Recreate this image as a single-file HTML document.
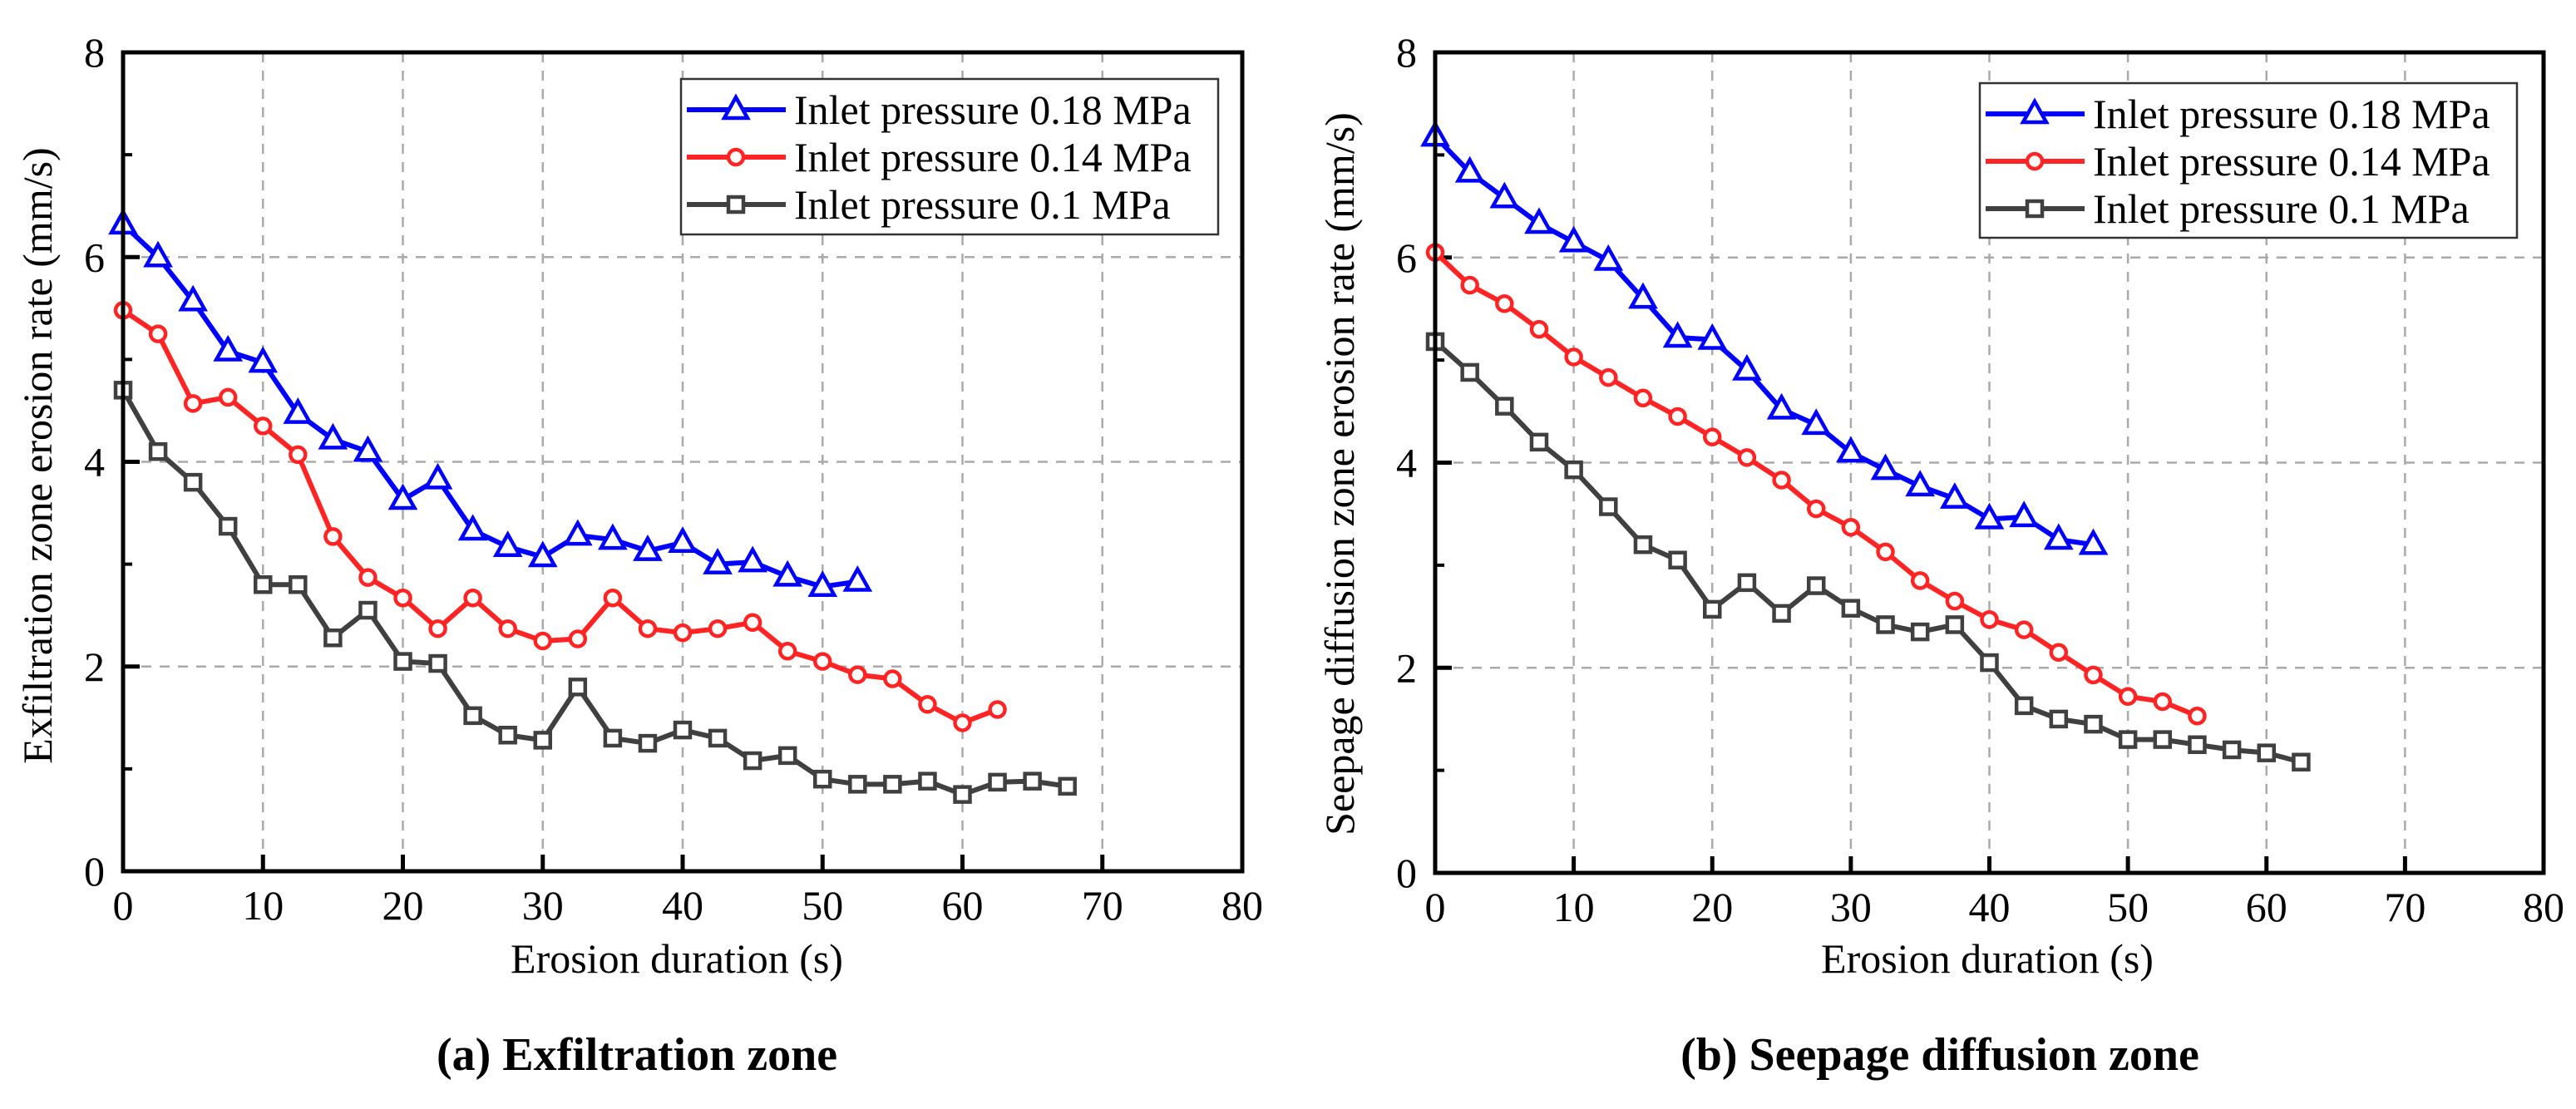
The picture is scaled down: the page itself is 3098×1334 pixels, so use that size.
<!DOCTYPE html>
<html><head><meta charset="utf-8"><style>
html,body{margin:0;padding:0;background:#fff;}
svg, svg text{font-family:"Liberation Serif","Times New Roman",serif;}
</style></head><body>
<svg id="fig" width="3098" height="1329" viewBox="0 0 3098 1329" xmlns="http://www.w3.org/2000/svg" font-family="Liberation Serif, serif"></svg>
<script>
const xTicks=[0,10,20,30,40,50,60,70,80];
const yTicks=[0,2,4,6,8];
const seriesNames=["Inlet pressure 0.18 MPa","Inlet pressure 0.14 MPa","Inlet pressure 0.1 MPa"];
const aBlue=[6.32,6.0,5.57,5.08,4.97,4.47,4.22,4.1,3.63,3.83,3.33,3.17,3.07,3.28,3.24,3.13,3.21,3.0,3.02,2.88,2.78,2.83];
const aRed=[5.48,5.25,4.57,4.63,4.35,4.07,3.27,2.87,2.67,2.37,2.67,2.37,2.25,2.27,2.67,2.37,2.33,2.37,2.43,2.15,2.05,1.92,1.88,1.63,1.45,1.58];
const aBlack=[4.7,4.1,3.8,3.37,2.8,2.8,2.28,2.55,2.05,2.03,1.52,1.33,1.28,1.8,1.3,1.25,1.38,1.3,1.08,1.13,0.9,0.85,0.85,0.88,0.75,0.87,0.88,0.83];
const bBlue=[7.18,6.83,6.58,6.33,6.15,5.97,5.6,5.22,5.2,4.9,4.52,4.37,4.1,3.93,3.77,3.65,3.45,3.47,3.25,3.2];
const bRed=[6.05,5.73,5.55,5.3,5.03,4.83,4.63,4.45,4.25,4.05,3.83,3.55,3.37,3.13,2.85,2.65,2.47,2.37,2.15,1.93,1.72,1.67,1.53];
const bBlack=[5.18,4.88,4.55,4.2,3.93,3.57,3.2,3.05,2.57,2.83,2.53,2.8,2.58,2.42,2.35,2.42,2.05,1.63,1.5,1.45,1.3,1.3,1.25,1.2,1.17,1.08];
const xStep=2.5;

const NS="http://www.w3.org/2000/svg";
const svg=document.getElementById('fig');
function mk(tag,attrs,parent,text){const e=document.createElementNS(NS,tag);for(const k in attrs)e.setAttribute(k,attrs[k]);if(text!==undefined){e.textContent=text;e.setAttribute('font-family','Liberation Serif, serif');}(parent||svg).appendChild(e);return e;}

const colors=["#0000ff","#ff2424","#404040"];
const markers=["tri","circ","sq"];

function marker(g,type,x,y,color){
  let m;
  if(type==="tri"){m=mk('polygon',{points:`${x},${y-15} ${x-14},${y+10} ${x+14},${y+10}`,fill:'#fff',stroke:color,'stroke-width':4.5},g);}
  else if(type==="circ"){m=mk('circle',{cx:x,cy:y,r:9,fill:'#fff',stroke:color,'stroke-width':4.5},g);}
  else {m=mk('rect',{x:x-9,y:y-9,width:18,height:18,fill:'#fff',stroke:color,'stroke-width':4.5},g);}
  return m;
}

function panel(cfg){
  const {L,R,T,B,id,data,ytitle,ycx,ycy,xtx,sub,subx,leg}=cfg;
  const g=mk('g',{});
  
  
  const X=v=>L+(R-L)*v/80, Y=v=>B-(B-T)*v/8;
  xTicks.slice(1,-1).forEach(t=>{const l=mk('line',{x1:X(t),x2:X(t),y1:T,y2:B,stroke:'#aaa','stroke-width':2.5,'stroke-dasharray':'12,10'},g);});
  yTicks.slice(1,-1).forEach(t=>{const l=mk('line',{x1:L,x2:R,y1:Y(t),y2:Y(t),stroke:'#aaa','stroke-width':2.5,'stroke-dasharray':'12,10'},g);});
  xTicks.forEach(t=>{mk('line',{x1:X(t),x2:X(t),y1:B,y2:B-20,stroke:'#000','stroke-width':5},g);
    const tx=mk('text',{x:X(t),y:B+58,'font-size':50,'text-anchor':'middle'},g,String(t));});
  yTicks.forEach(t=>{mk('line',{x1:L,x2:L+20,y1:Y(t),y2:Y(t),stroke:'#000','stroke-width':5},g);
    const tx=mk('text',{x:L-22,y:Y(t)+17,'font-size':50,'text-anchor':'end'},g,String(t));});
  [1,3,5,7].forEach(t=>mk('line',{x1:L,x2:L+11,y1:Y(t),y2:Y(t),stroke:'#000','stroke-width':4},g));
  data.forEach((arr,i)=>{
    const sg=mk('g',{},g);
    
    
    const pts=arr.map((v,j)=>X(j*xStep)+','+Y(v)).join(' ');
    mk('polyline',{points:pts,fill:'none',stroke:colors[i],'stroke-width':6,'stroke-linejoin':'round'},sg);
    arr.forEach((v,j)=>{const m=marker(sg,markers[i],X(j*xStep),Y(v),colors[i]);});
  });
  const fr=mk('rect',{x:L,y:T,width:R-L,height:B-T,fill:'none',stroke:'#000','stroke-width':5},g);
  
  const lg=mk('g',{},g);
  
  mk('rect',{x:leg.x,y:leg.y,width:leg.w,height:leg.h,fill:'#fff',stroke:'#333','stroke-width':2.5},lg);
  seriesNames.forEach((n,i)=>{
    const e=mk('g',{},lg);
    
    const cy=leg.y+37+i*57;
    mk('line',{x1:leg.x+7,x2:leg.x+126,y1:cy,y2:cy,stroke:colors[i],'stroke-width':6},e);
    marker(e,markers[i],leg.x+66,cy,colors[i]);
    mk('text',{x:leg.x+136,y:cy+17,'font-size':50},e,n);
  });
  const xt=mk('text',{x:xtx,y:1170,'font-size':50,'text-anchor':'middle'},g,'Erosion duration (s)');
  
  const yt=mk('text',{x:0,y:0,'font-size':50,'text-anchor':'middle',transform:`translate(${ycx},${ycy}) rotate(-90)`},g,ytitle);
  
  const st=mk('text',{x:subx,y:1287,'font-size':56,'font-weight':'bold','text-anchor':'middle'},g,sub);
  
}

panel({L:148,R:1494,T:63,B:1048,id:'exfiltration',data:[aBlue,aRed,aBlack],
  ytitle:'Exfiltration zone erosion rate (mm/s)',ycx:62,ycy:548,xtx:814,sub:'(a) Exfiltration zone',subx:766,
  leg:{x:819,y:95,w:646,h:187}});
panel({L:1726,R:3059,T:63,B:1050,id:'seepage',data:[bBlue,bRed,bBlack],
  ytitle:'Seepage diffusion zone erosion rate (mm/s)',ycx:1628,ycy:570,xtx:2390,sub:'(b) Seepage diffusion zone',subx:2333,
  leg:{x:2381,y:100,w:646,h:186}});
</script>
</body></html>
